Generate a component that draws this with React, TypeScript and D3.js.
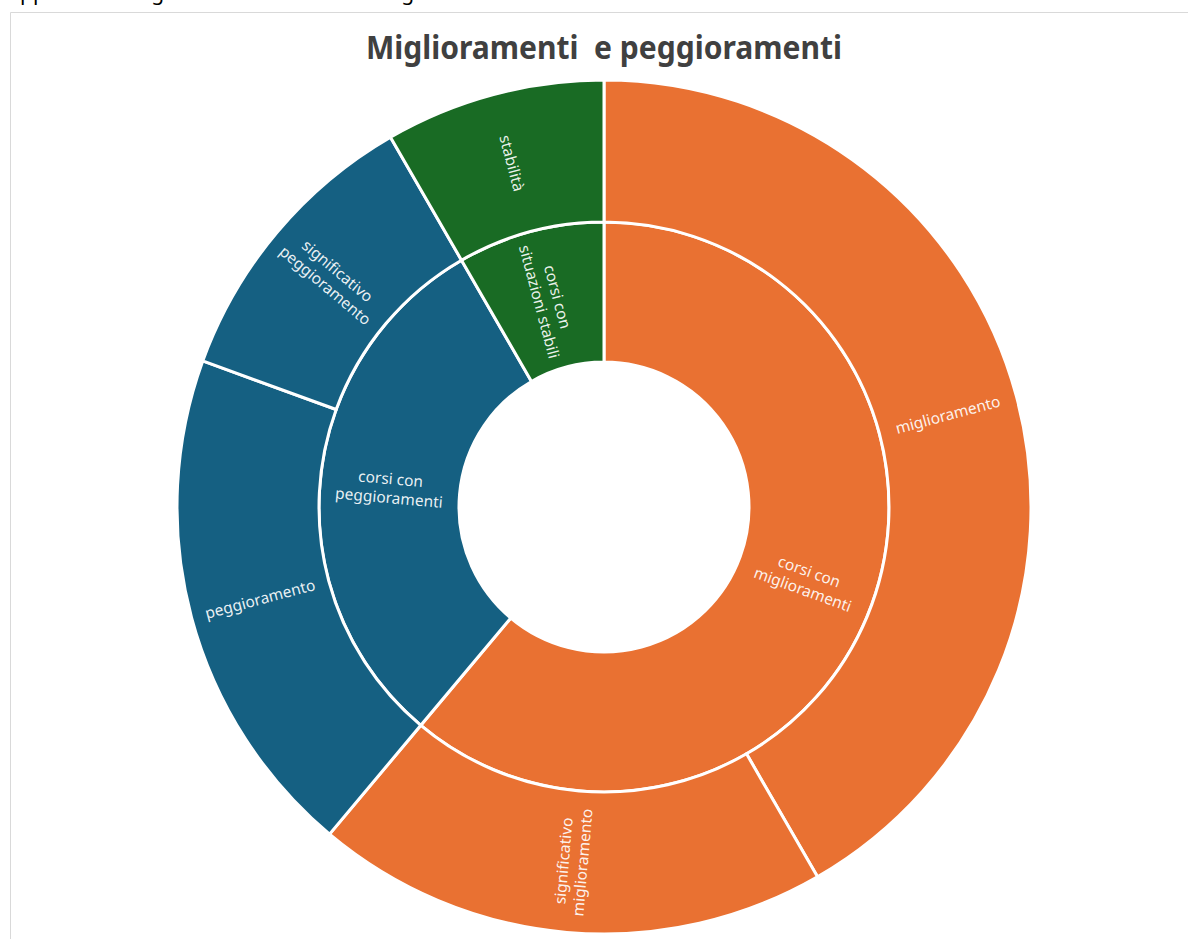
import { useRef, useEffect } from 'react';
import * as d3 from 'd3';

// inner ring: groups, outer ring: their children (values = number of courses)
const groups = ['corsi con\nmiglioramenti', 'corsi con\npeggioramenti', 'corsi con\nsituazioni stabili'];
const groupColors = ['#E97132', '#156082', '#196B24'];
const childLabels = [
  ['miglioramento', 'significativo\nmiglioramento'],
  ['peggioramento', 'significativo\npeggioramento'],
  ['stabilità'],
];
const childValues = [
  [15, 7],
  [7, 4],
  [3],
];

const title = 'Miglioramenti  e peggioramenti';
const cutText = 'rappresentano graficamente i risultati seguenti';

const W = 1188;
const H = 939;

function App() {
  const svgRef = useRef(null);

  useEffect(() => {
    const svg = d3.select(svgRef.current);
    svg.selectAll('*').remove();

    const cx = 604;
    const cy = 507;

    // text of the page above the chart, cut off at the top edge
    svg
      .append('text')
      .attr('x', 0)
      .attr('y', 0)
      .attr('font-family', 'Noto Sans, sans-serif')
      .attr('font-size', 21)
      .attr('fill', '#000')
      .text(cutText);

    svg.append('rect').attr('x', 0).attr('y', 10).attr('width', W).attr('height', H).attr('fill', '#fff');

    svg
      .append('path')
      .attr('d', `M10.5,${H} V12.5 H${W}`)
      .attr('fill', 'none')
      .attr('stroke', '#d9d9d9')
      .attr('stroke-width', 1);

    svg
      .append('text')
      .attr('x', cx)
      .attr('y', 59)
      .attr('text-anchor', 'middle')
      .attr('font-family', 'Noto Sans, sans-serif')
      .attr('font-weight', 'bold')
      .attr('font-size', 33)
      .attr('fill', '#404040')
      .attr('textLength', 476)
      .attr('lengthAdjust', 'spacingAndGlyphs')
      .style('white-space', 'pre')
      .text(title);

    const tree = {
      name: 'root',
      children: groups.map((g, i) => ({
        name: g,
        color: groupColors[i],
        children: childLabels[i].map((c, j) => ({ name: c, value: childValues[i][j], color: groupColors[i] })),
      })),
    };

    const root = d3.hierarchy(tree).sum((d) => d.value || 0);
    d3.partition().size([2 * Math.PI, 3])(root);

    const radius = d3.scaleLinear().domain([1, 2, 3]).range([145, 285, 427]);

    const arc = d3
      .arc()
      .startAngle((d) => d.x0)
      .endAngle((d) => d.x1)
      .innerRadius((d) => radius(d.y0))
      .outerRadius((d) => radius(d.y1));

    const nodes = root.descendants().filter((d) => d.depth > 0);

    const g = svg.append('g').attr('transform', `translate(${cx},${cy})`);

    g.selectAll('path')
      .data(nodes)
      .enter()
      .append('path')
      .attr('d', arc)
      .attr('fill', (d) => d.data.color)
      .attr('stroke', '#fff')
      .attr('stroke-width', 3)
      .attr('stroke-linejoin', 'miter');

    const labels = g
      .selectAll('g.lbl')
      .data(nodes)
      .enter()
      .append('g')
      .attr('class', 'lbl')
      .attr('transform', (d) => {
        const a = (((d.x0 + d.x1) / 2) * 180) / Math.PI;
        const r = (radius(d.y0) + radius(d.y1)) / 2;
        const x = r * Math.sin((a * Math.PI) / 180);
        const y = -r * Math.cos((a * Math.PI) / 180);
        const rot = a < 180 ? a - 90 : a - 270;
        return `translate(${x},${y}) rotate(${rot})`;
      });

    labels
      .append('text')
      .attr('text-anchor', 'middle')
      .attr('font-family', 'Noto Sans, sans-serif')
      .attr('font-size', 15.5)
      .attr('fill', '#fff')
      .attr('fill-opacity', 0.92)
      .each(function (d) {
        const lines = d.data.name.split('\n');
        const lh = 19;
        const t = d3.select(this);
        lines.forEach((ln, i) => {
          t.append('tspan')
            .attr('x', 0)
            .attr('y', (i - (lines.length - 1) / 2) * lh)
            .attr('dy', '0.35em')
            .text(ln);
        });
      });

    return () => {
      svg.selectAll('*').remove();
    };
  }, []);

  return (
    <svg
      ref={svgRef}
      width={W}
      height={H}
      style={{ position: 'absolute', left: 0, top: 0, background: '#fff' }}
    />
  );
}

export default App;
